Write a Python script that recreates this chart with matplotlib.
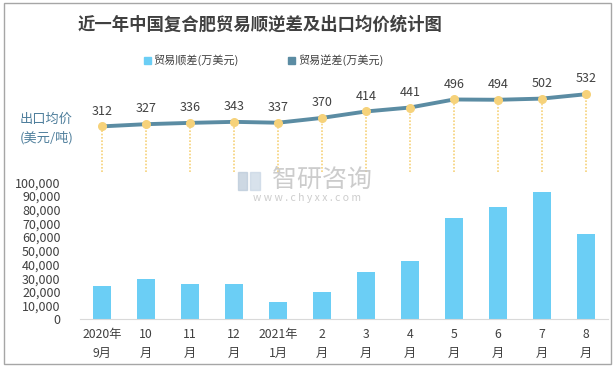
import numpy as np
import matplotlib.pyplot as plt
from matplotlib.patches import Rectangle

plt.rcParams['font.family'] = ['Noto Sans CJK SC', 'DejaVu Sans']

# data
months = ["2020年\n9月", "10\n月", "11\n月", "12\n月", "2021年\n1月", "2\n月",
          "3\n月", "4\n月", "5\n月", "6\n月", "7\n月", "8\n月"]
surplus = [24300, 29400, 25800, 25800, 12600, 19900,
           34500, 42500, 73900, 82000, 92900, 62300]
price = [312, 327, 336, 343, 337, 370, 414, 441, 496, 494, 502, 532]

bar_color = "#6BCEF5"
line_color = "#5B8CA3"
dot_color = "#F6D27A"
text_color = "#404040"

x = np.arange(len(months))

fig = plt.figure(figsize=(6.15, 3.69), dpi=100)

# bars (bottom panel)
ax = fig.add_axes([0.130, 0.1347, 0.8585, 0.3713])
ax.bar(x, surplus, width=0.41, color=bar_color, zorder=2)
ax.set_xlim(-0.5, len(months) - 0.5)
ax.set_ylim(0, 100000)
ax.set_yticks(np.arange(0, 100001, 10000))
ax.set_yticklabels([f"{v:,}" for v in range(0, 100001, 10000)], fontsize=9, color=text_color)
ax.set_xticks(x)
ax.set_xticklabels(months, fontsize=8.8, color=text_color, linespacing=1.6)
ax.tick_params(length=0, pad=14)
ax.tick_params(axis='x', pad=6)
for s in ["top", "right", "left"]:
    ax.spines[s].set_visible(False)
ax.spines["bottom"].set_color("#D9D9D9")
ax.patch.set_alpha(0)

# export price line (top panel)
ax2 = fig.add_axes([0.130, 0.5339, 0.8585, 0.2377])
ax2.set_xlim(-0.5, len(months) - 0.5)
ax2.set_ylim(0, 600)
ax2.vlines(x, 0, price, colors=dot_color, linestyles=(0, (1, 1)), linewidth=1.2, zorder=1)
ax2.plot(x, price, color=line_color, linewidth=2.8, zorder=2)
ax2.scatter(x, price, s=30, color=dot_color, zorder=3)
for xi, p in zip(x, price):
    ax2.text(xi, p + 60, str(p), ha="center", va="bottom", fontsize=9, color=text_color)
ax2.axis("off")

# title and legend
fig.text(260 / 615, 1 - 25 / 369, "近一年中国复合肥贸易顺逆差及出口均价统计图", ha="center", va="center",
         fontsize=12.5, fontweight="bold", color=text_color)
fig.patches.append(Rectangle((144 / 615, 1 - 64 / 369), 7 / 615, 7 / 369,
                             transform=fig.transFigure, color=bar_color))
fig.text(153 / 615, 1 - 60 / 369, "贸易顺差(万美元)", va="center", fontsize=8, color=text_color)
fig.patches.append(Rectangle((288 / 615, 1 - 64 / 369), 7 / 615, 7 / 369,
                             transform=fig.transFigure, color=line_color))
fig.text(298 / 615, 1 - 60 / 369, "贸易逆差(万美元)", va="center", fontsize=8, color=text_color)

fig.text(20 / 615, 1 - 129 / 369, "出口均价\n(美元/吨)", va="center", ha="left", fontsize=9.5,
         color="#4F7F9C", linespacing=1.5)

# watermark
fig.patches.append(Rectangle((238 / 615, 1 - 190 / 369), 9 / 615, 18 / 369,
                             transform=fig.transFigure, color="#B8C8D8", alpha=0.7))
fig.patches.append(Rectangle((250 / 615, 1 - 190 / 369), 10 / 615, 18 / 369,
                             transform=fig.transFigure, color="#C8D6E4", alpha=0.7))
fig.text(322 / 615, 1 - 180 / 369, "智研咨询", ha="center", va="center", fontsize=18,
         color="#C4C4C4", alpha=0.85)
fig.text(307 / 615, 1 - 198 / 369, "w w w . c h y x x . c o m", ha="center", va="center",
         fontsize=7.5, color="#C4C4C4", alpha=0.85)

# outer border
fig.patches.append(Rectangle((4 / 615, 5 / 369), 607 / 615, 361 / 369, transform=fig.transFigure,
                             fill=False, edgecolor="#A6A6A6", linewidth=1))

fig.savefig("out.png", dpi=100)
